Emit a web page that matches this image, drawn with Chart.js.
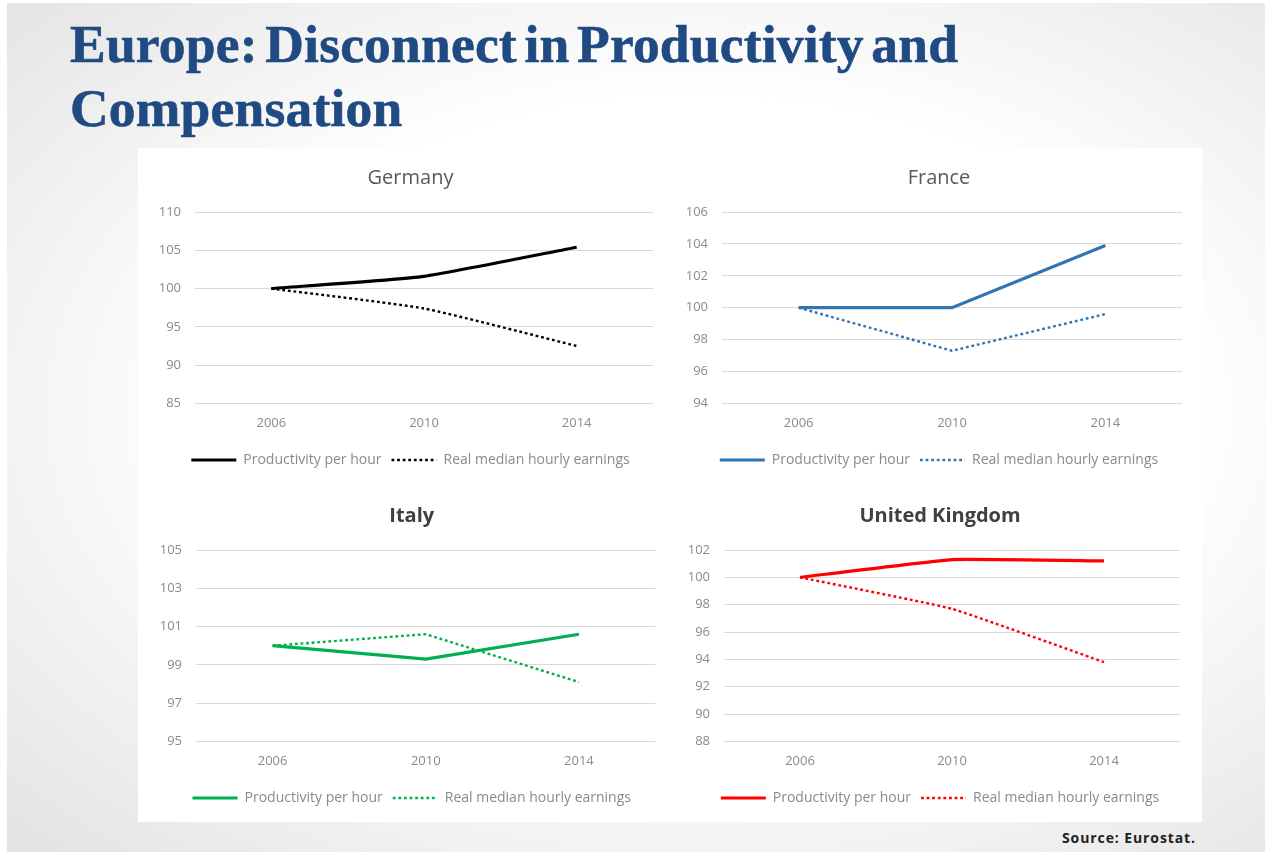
<!DOCTYPE html>
<html>
<head>
<meta charset="utf-8">
<script src="https://cdn.jsdelivr.net/npm/chart.js@4.4.1/dist/chart.umd.min.js"></script>
<style>
html, body { margin: 0; padding: 0; width: 1265px; height: 852px; overflow: hidden; background: #fff; }
#slide { position: absolute; left: 7px; top: 3px; right: 0; bottom: 0;
  background: radial-gradient(ellipse at 55% 48%, #ffffff 50%, #e2e2e2 100%); }
h1 { position: absolute; left: 70px; top: 12px; margin: 0; font-family: 'Liberation Serif', serif;
  font-weight: bold; font-size: 53.5px; line-height: 64px; color: #1f4a82; letter-spacing: 0.2px;
  word-spacing: -6px; -webkit-text-stroke: 0.6px #1f4a82; }
#panel { position: absolute; left: 138px; top: 148px; width: 1064px; height: 674px; background: #fff; }
.box { position: absolute; height: 320px; }
#source { position: absolute; left: 1062px; top: 828px; font: bold 14px 'Open Sans', sans-serif;
  letter-spacing: 0.9px; color: #222; }
</style>
</head>
<body>
<div id="slide"></div>
<h1>Europe: Disconnect in Productivity and<br>Compensation</h1>
<div id="panel"></div>
<div class="box" style="left:140px;top:160px;width:525px"><canvas id="germany"></canvas></div>
<div class="box" style="left:668px;top:160px;width:532px"><canvas id="france"></canvas></div>
<div class="box" style="left:140px;top:498px;width:525px"><canvas id="italy"></canvas></div>
<div class="box" style="left:668px;top:498px;width:532px"><canvas id="uk"></canvas></div>
<div id="source">Source: Eurostat.</div>
<script>
// years on the x axis
const years = ['2006', '2010', '2014'];
const seriesNames = ['Productivity per hour', 'Real median hourly earnings'];

// index values (2006 = 100)
const germanyProd = [100, 101.6, 105.4];
const germanyEarn = [100, 97.4, 92.5];
const franceProd = [100, 100, 103.9];
const franceEarn = [100, 97.3, 99.6];
const italyProd = [100, 99.3, 100.6];
const italyEarn = [100, 100.6, 98.1];
const ukProd = [100, 101.3, 101.2];
const ukEarn = [100, 97.7, 93.8];

// y axis ticks per chart
const germanyTicks = [85, 90, 95, 100, 105, 110];
const franceTicks = [94, 96, 98, 100, 102, 104, 106];
const italyTicks = [95, 97, 99, 101, 103, 105];
const ukTicks = [88, 90, 92, 94, 96, 98, 100, 102];

const tickColor = '#8a8a8a';
const gridColor = '#d9d9d9';

// legend lines drawn with the dataset's own width and dash
function legendItems(chart) {
    const items = Chart.defaults.plugins.legend.labels.generateLabels(chart);
    items.forEach((item, i) => {
        const ds = chart.data.datasets[i];
        item.pointStyle = 'line';
        item.lineWidth = ds.borderWidth;
        item.lineDash = ds.borderDash || [];
        item.strokeStyle = ds.borderColor;
    });
    return items;
}

function makeChart(id, title, boldTitle, color, prod, earn, ticks, padRight, axisWidth, shift, tension) {
    const ctx = document.getElementById(id).getContext('2d');
    return new Chart(ctx, {
        type: 'line',
        data: {
            labels: years,
            datasets: [
                {
                    label: seriesNames[0],
                    data: prod,
                    borderColor: color,
                    backgroundColor: color,
                    borderWidth: 3.2,
                    pointRadius: 0,
                    tension: tension
                },
                {
                    label: seriesNames[1],
                    data: earn,
                    borderColor: color,
                    backgroundColor: color,
                    borderWidth: 2.4,
                    borderDash: [2.8, 2.8],
                    pointRadius: 0,
                    tension: tension
                }
            ]
        },
        options: {
            responsive: true,
            maintainAspectRatio: false,
            animation: false,
            layout: { padding: { left: 0, right: padRight, top: 0, bottom: 3 } },
            plugins: {
                title: {
                    display: true,
                    text: title,
                    color: boldTitle ? '#404040' : '#595959',
                    font: { family: 'Open Sans', size: 20, weight: boldTitle ? 'bold' : 'normal' },
                    padding: { top: 6, bottom: 22 }
                },
                legend: {
                    position: 'bottom',
                    labels: {
                        usePointStyle: true,
                        pointStyleWidth: 45,
                        color: tickColor,
                        font: { family: 'Open Sans', size: 14 },
                        padding: 10,
                        generateLabels: legendItems
                    }
                },
                tooltip: { enabled: false }
            },
            scales: {
                x: {
                    offset: true,
                    grid: { display: false, drawTicks: false },
                    border: { display: false },
                    ticks: { color: tickColor, font: { family: 'Open Sans', size: 13 }, padding: 12 }
                },
                y: {
                    min: ticks[0],
                    max: ticks[ticks.length - 1],
                    afterBuildTicks: (scale) => { scale.ticks = ticks.map(v => ({ value: v })); },
                    afterFit: (scale) => { scale.width = axisWidth; },
                    grid: { color: gridColor, drawTicks: false, lineWidth: 1 },
                    border: { display: false },
                    ticks: { color: tickColor, font: { family: 'Open Sans', size: 13 }, padding: 14 }
                }
            }
        },
        plugins: [
            {
                // title and legend sit a little right of the plot centre in the original
                id: 'shiftTitleLegend',
                afterLayout: (chart) => {
                    chart.titleBlock.left += shift;
                    chart.titleBlock.right += shift;
                    chart.legend.left += shift;
                    chart.legend.right += shift;
                }
            }
        ]
    });
}

makeChart('germany', 'Germany', false, '#000000', germanyProd, germanyEarn, germanyTicks, 12, 55, 14, 0.15);
makeChart('france', 'France', false, '#2e75b6', franceProd, franceEarn, franceTicks, 18, 54, 14, 0);
makeChart('italy', 'Italy', true, '#00b050', italyProd, italyEarn, italyTicks, 9.5, 56, 14, 0);
makeChart('uk', 'United Kingdom', true, '#ff0000', ukProd, ukEarn, ukTicks, 20, 56, 16, 0.1);
</script>
</body>
</html>
